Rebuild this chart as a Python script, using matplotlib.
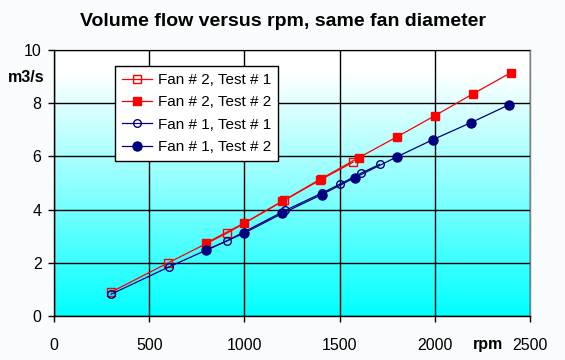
import numpy as np
import matplotlib
matplotlib.use("Agg")
import matplotlib.pyplot as plt
from matplotlib.colors import LinearSegmentedColormap

plt.rcParams['font.family'] = ['Liberation Sans', 'DejaVu Sans']

# Fan # 2, Test # 1 (open red squares)
rpm_f2_t1 = [300, 600, 910, 1210, 1395, 1570]
vol_f2_t1 = [0.90, 2.00, 3.12, 4.35, 5.10, 5.78]

# Fan # 2, Test # 2 (filled red squares)
rpm_f2_t2 = [800, 1000, 1200, 1400, 1600, 1800, 2000, 2200, 2400]
vol_f2_t2 = [2.75, 3.50, 4.32, 5.15, 5.95, 6.73, 7.53, 8.35, 9.15]

# Fan # 1, Test # 1 (open blue circles)
rpm_f1_t1 = [300, 605, 910, 1215, 1410, 1500, 1610, 1710]
vol_f1_t1 = [0.82, 1.85, 2.83, 3.97, 4.63, 4.95, 5.36, 5.70]

# Fan # 1, Test # 2 (filled blue circles)
rpm_f1_t2 = [800, 1000, 1200, 1405, 1580, 1800, 1990, 2190, 2390]
vol_f1_t2 = [2.48, 3.12, 3.86, 4.56, 5.20, 5.98, 6.63, 7.27, 7.94]

x_ticks = [0, 500, 1000, 1500, 2000, 2500]
y_ticks = [0, 2, 4, 6, 8, 10]

red = '#FF0000'
navy = '#000080'

fig = plt.figure(figsize=(5.65, 3.6), dpi=100, facecolor='#F8FCFC')
ax = fig.add_axes([54 / 565, 44 / 360, 476 / 565, 266 / 360])

# background gradient cyan (bottom) -> white (top)
cmap = LinearSegmentedColormap.from_list(
    'bg', [(0, '#00FFFF'), (0.5, '#90FFFF'), (0.92, '#FFFFFF'), (1, '#FFFFFF')])
grad = np.linspace(0, 1, 256).reshape(-1, 1)
ax.imshow(grad, aspect='auto', cmap=cmap, origin='lower',
          extent=[0, 2500, 0, 10], zorder=0)

ax.plot(rpm_f2_t1, vol_f2_t1, color=red, lw=0.9, marker='s', ms=5.5,
        mfc='none', mec=red, mew=1, label='Fan # 2, Test # 1', zorder=3)
ax.plot(rpm_f2_t2, vol_f2_t2, color=red, lw=0.9, marker='s', ms=6,
        mfc=red, mec=red, label='Fan # 2, Test # 2', zorder=3)
ax.plot(rpm_f1_t1, vol_f1_t1, color=navy, lw=0.9, marker='o', ms=5.5,
        mfc='none', mec=navy, mew=1, label='Fan # 1, Test # 1', zorder=3)
ax.plot(rpm_f1_t2, vol_f1_t2, color=navy, lw=0.9, marker='o', ms=6.5,
        mfc=navy, mec=navy, label='Fan # 1, Test # 2', zorder=3)

ax.set_xlim(0, 2500)
ax.set_ylim(0, 10)
ax.set_xticks(x_ticks)
ax.set_yticks(y_ticks)
ax.tick_params(direction='out', length=4, width=1, color='black',
               labelsize=11.5, pad=12)
ax.tick_params(axis='y', pad=5)
ax.grid(True, color='black', lw=1, zorder=1)
ax.set_axisbelow(False)

for side in ['left', 'bottom']:
    ax.spines[side].set_color('black')
    ax.spines[side].set_linewidth(1)
for side in ['top', 'right']:
    ax.spines[side].set_color('#808080')
    ax.spines[side].set_linewidth(1)

fig.text(0.5, 1 - 22 / 360, 'Volume flow versus rpm, same fan diameter',
         ha='center', va='center', fontsize=14, fontweight='bold')
fig.text(26 / 565, 1 - 77 / 360, 'm3/s', ha='center', va='center',
         fontsize=11.5, fontweight='bold')
fig.text(488 / 565, 1 - 344 / 360, 'rpm', ha='center', va='center',
         fontsize=11.5, fontweight='bold')

leg = ax.legend(loc='upper left', bbox_to_anchor=(61 / 476, 1 - 16 / 266),
                fontsize=11, frameon=True, fancybox=False, framealpha=1,
                edgecolor='black', facecolor='white', handlelength=2.0,
                borderpad=0.45, labelspacing=0.55, handletextpad=0.35,
                borderaxespad=0)
leg.get_frame().set_linewidth(1)

plt.savefig('out.png', dpi=100, facecolor=fig.get_facecolor())
